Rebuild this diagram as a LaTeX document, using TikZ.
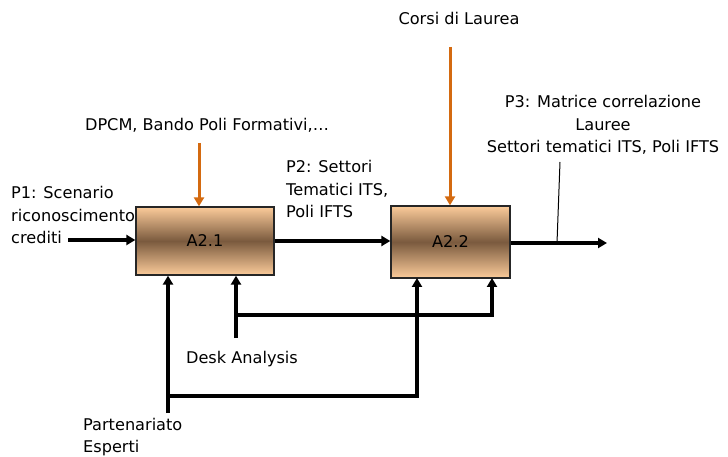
\documentclass[tikz,border=0pt]{standalone}
\usepackage{fontspec}
\setmainfont{DejaVu Sans}
\usetikzlibrary{arrows.meta}
\definecolor{peach}{RGB}{251,203,154}
\definecolor{mudbrown}{RGB}{122,90,62}
\definecolor{ctrlorange}{RGB}{212,106,16}

\begin{document}
\begin{tikzpicture}[x=1bp,y=-1bp,
        font=\fontsize{16.2}{22.5}\selectfont,
        procbox/.style={draw=black!85, line width=1.3bp, top color=peach, bottom color=peach, middle color=mudbrown, inner sep=0pt},
        flow/.style={line width=3.4bp, -{Triangle[length=9bp,width=10bp]}},
        ctrl/.style={line width=3bp, color=ctrlorange, -{Triangle[length=9bp,width=10bp]}},
        lbl/.style={inner sep=0pt, align=left}]
        \useasboundingbox (0,0) rectangle (728,457);
        % activities
        \node[procbox, minimum width=138bp, minimum height=68bp] (a21) at (205,241) {A2.1};
        \node[procbox, minimum width=119bp, minimum height=72bp] (a22) at (450.5,242) {A2.2};

        % labels
        \node[lbl] (corsi) at (459,18) {Corsi di Laurea};
        \node[lbl] (dpcm) at (207,125) {DPCM, Bando Poli Formativi,\dots};
        \node[lbl, align=center] (p3) at (603,125) {P3: Matrice correlazione\\Lauree\\Settori tematici ITS, Poli IFTS};
        \node[lbl, anchor=west] (p2) at (286,189) {P2: Settori\\Tematici ITS,\\Poli IFTS};
        \node[lbl, anchor=west] (p1) at (11,215) {P1: Scenario\\riconoscimento\\crediti};
        \node[lbl] (desk) at (242,359) {Desk Analysis};
        \node[lbl, anchor=west] (part) at (83,437) {Partenariato\\Esperti};

        \coordinate (p1in) at (68,240);
        \coordinate (dpcmin) at (199,143);
        \coordinate (corsiin) at (450,47);
        \coordinate (p3out) at (607,243);
        \coordinate (p3lead) at (560,162);
        \coordinate (deskin) at (236,338);
        \coordinate (deskj) at (236,315);
        \coordinate (deskb) at (492,278);
        \coordinate (partin) at (168,413);
        \coordinate (partj) at (168,396);
        \coordinate (partb) at (417,278);

        % inputs and outputs
        \draw[flow] (p1in) -- (a21.west |- p1in);
        \draw[flow] (a21.east) -- (a22.west |- a21.east);
        \draw[flow] (a22.east |- p3out) -- (p3out);
        \draw[line width=1bp] (p3lead) -- (557,243);

        % controls
        \draw[ctrl] (dpcmin) -- (a21.north -| dpcmin);
        \draw[ctrl] (corsiin) -- (a22.north -| corsiin);

        % mechanisms
        \draw[flow] (deskin) -- (a21.south -| deskin);
        \draw[flow] (deskj) -| (deskb);
        \draw[flow] (partin) -- (a21.south -| partin);
        \draw[flow] (partj) -| (partb);
\end{tikzpicture}
\end{document}
